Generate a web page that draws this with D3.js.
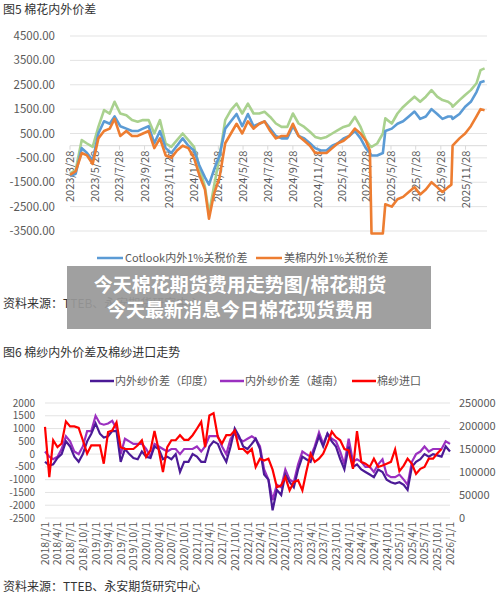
<!DOCTYPE html>
<html><head><meta charset="utf-8">
<script src="https://cdn.jsdelivr.net/npm/d3@7"></script>
<style>body{margin:0;background:#fff}svg{display:block}text{font-family:"Noto Sans CJK SC","Open Sans",sans-serif}</style>
</head><body><svg id="c" width="500" height="595"></svg>
<script>
// ---- Chart 1 data (days since 2023-03-28) ----
const c1Days=[0,14,29,42,56,70,84,98,110,124,139,153,167,180,194,208,222,236,250,264,278,292,306,319,333,343,355,369,383,397,411,425,439,453,467,480,494,508,522,536,550,564,578,592,605,619,633,647,661,675,689,703,717,730,740,744,758,772,778,794,808,822,836,850,864,878,892,906,919,933,941,944,961,975,989,1003,1013,1023];
const c1Green=[-1140,-1000,230,90,-50,770,1460,1320,1800,1320,1250,1050,980,1050,1050,500,1050,90,-50,230,500,230,-50,-870,-1690,-2790,-1690,-460,1050,1460,1730,1320,1730,1320,1320,1390,1180,910,770,770,1320,910,770,570,360,290,360,500,640,770,840,1180,770,230,0,-50,90,500,1120,910,1320,1590,1800,2010,1800,2010,2280,2010,1870,1800,1700,1600,1870,2080,2280,2560,3100,3170];
const c1Blue=[-1250,-1150,-100,-300,-600,500,1000,900,1200,800,700,600,600,700,800,100,600,-100,-300,0,300,0,-200,-800,-1300,-1600,-1000,-400,700,1000,1300,800,1300,800,900,1000,700,400,300,300,800,400,300,100,-100,-200,-200,0,100,300,400,600,300,-100,-300,-400,-400,-300,600,700,900,1000,1200,1400,1100,1200,1500,1300,1100,1200,1200,1100,1300,1600,1800,2200,2600,2650];
const c1Orange=[-1200,-1050,-300,-400,-750,300,600,700,1100,400,600,400,400,500,600,-100,300,-400,-500,-200,0,-100,-500,-1200,-1800,-3000,-2000,-1300,100,500,900,500,1000,700,900,1000,600,300,400,400,900,400,200,0,-300,-300,-300,-100,100,200,400,700,500,200,-200,-3600,-3600,-3600,-2400,-2500,-2200,-2100,-1900,-1700,-2000,-1800,-1500,-1700,-1900,-1700,-1600,0,300,500,800,1200,1500,1450];
const c1Ticks=["2023/3/28","2023/5/28","2023/7/28","2023/9/28","2023/11/28","2024/1/28","2024/3/28","2024/5/28","2024/7/28","2024/9/28","2024/11/28","2025/1/28","2025/3/28","2025/5/28","2025/7/28","2025/9/28","2025/11/28"];
const c1YTicks=[4500,3500,2500,1500,500,-500,-1500,-2500,-3500];
// ---- Chart 2 data (monthly from 2018/1) ----
const india=[-300,-450,-400,-150,0,500,300,-100,-300,0,500,800,1200,800,650,700,900,900,-300,200,0,-150,-200,100,-100,-150,300,200,-200,-100,-200,0,-700,-300,-300,0,-100,-300,-300,300,500,400,0,-300,300,1000,700,300,200,400,600,200,-800,-1000,-2200,-1400,-1600,-800,-1100,-1300,-600,-100,-200,-300,200,700,300,800,500,300,-200,-600,300,-500,-400,-600,-700,-800,-900,-600,-700,-1000,-1100,-1150,-1100,-1200,-1400,-500,-300,-200,0,-100,0,-50,-100,300,100];
const vietnam=[100,-100,-200,-100,200,700,500,100,0,300,900,900,1500,1200,1150,1200,1300,1000,0,600,500,400,400,400,200,-100,400,300,200,100,200,200,0,200,200,200,300,100,300,700,700,700,300,0,600,800,600,500,600,700,600,300,-600,-1000,-1800,-1200,-1300,-600,-1000,-1100,-400,100,0,-100,300,850,400,800,600,500,100,-400,600,-300,-200,-300,-500,-500,-700,-400,-200,-800,-900,-900,-800,-1000,-1200,-300,0,100,300,100,200,200,200,500,400];
const imports=[198000,89000,169000,154000,162000,210000,199000,199000,196000,169000,140000,158000,158000,158000,118000,187000,190000,208000,154000,150000,150000,150000,158000,169000,133000,147000,189000,147000,100000,154000,169000,169000,180000,170000,170000,180000,194000,209000,154000,223000,228000,176000,162000,180000,180000,190000,150000,150000,141000,150000,111000,129000,125000,129000,105000,67000,71000,89000,60000,78000,82000,60000,100000,140000,122000,129000,140000,162000,188000,176000,169000,150000,147000,107000,189000,122000,118000,111000,129000,111000,114000,118000,122000,149000,102000,114000,129000,118000,96000,107000,111000,129000,129000,140000,150000];
const c2LeftTicks=[2000,1500,1000,500,0,-500,-1000,-1500,-2000,-2500];
const c2RightTicks=[250000,200000,150000,100000,50000,0];
const c2Legend=["内外纱价差（印度）","内外纱价差（越南）","棉纱进口"];

const svg=d3.select("#c");
const grey="#595959";
// ===== Chart 1 =====
svg.append("text").attr("x",3).attr("y",14).attr("font-size",12).attr("fill","#333").text("图5 棉花内外价差");
const t0=new Date(2023,2,28);
const dayToDate=d=>d3.timeDay.offset(t0,d);
const x1=d3.scaleTime().domain([t0,dayToDate(1024)]).range([70,485]);
const y1=d3.scaleLinear().domain([-3500,4500]).range([231,36]);
const g1=svg.append("g");
c1YTicks.forEach(v=>{
  g1.append("line").attr("x1",70).attr("x2",487).attr("y1",y1(v)).attr("y2",y1(v)).attr("stroke","#e3e3e3");
  g1.append("text").attr("x",55).attr("y",y1(v)+4).attr("text-anchor","end").attr("font-size",11.5).attr("fill",grey).text(v.toFixed(2));
});
g1.append("line").attr("x1",70).attr("x2",487).attr("y1",y1(0)).attr("y2",y1(0)).attr("stroke","#d9d9d9");
c1Ticks.forEach(s=>{
  const p=s.split("/").map(Number);const xx=x1(new Date(p[0],p[1]-1,p[2]));
  g1.append("line").attr("x1",xx).attr("x2",xx).attr("y1",y1(0)).attr("y2",y1(0)+4).attr("stroke","#d9d9d9");
  g1.append("text").attr("transform",`translate(${xx+4},${y1(0)+5}) rotate(-90)`).attr("text-anchor","end").attr("font-size",11).attr("fill",grey).text(s);
});
const line1=arr=>d3.line().x((d,i)=>x1(dayToDate(c1Days[i]))).y(d=>y1(d))(arr);
[[c1Green,"#a9d18e"],[c1Blue,"#5b9bd5"],[c1Orange,"#ed7d31"]].forEach(([a,c])=>{
  g1.append("path").attr("d",line1(a)).attr("fill","none").attr("stroke",c).attr("stroke-width",2.6).attr("stroke-linejoin","round");
});
// legend
[["#5b9bd5","Cotlook内外1%关税价差",97],["#ed7d31","美棉内外1%关税价差",256]].forEach(([c,t,x])=>{
  g1.append("line").attr("x1",x).attr("x2",x+26).attr("y1",258).attr("y2",258).attr("stroke",c).attr("stroke-width",2.5);
  g1.append("text").attr("x",x+28).attr("y",262).attr("font-size",11).attr("fill",grey).text(t);
});
g1.append("line").attr("x1",97).attr("x2",123).attr("y1",283).attr("y2",283).attr("stroke","#a9d18e").attr("stroke-width",2.5);
svg.append("text").attr("x",3).attr("y",308).attr("font-size",12).attr("fill","#333").text("资料来源：TTEB、永安期货研究中心");
// overlay
svg.append("rect").attr("x",67).attr("y",266).attr("width",364).attr("height",63).attr("fill","#999").attr("opacity",0.93);
[["今天棉花期货费用走势图/棉花期货",292],["今天最新消息今日棉花现货费用",317]].forEach(([t,y])=>{
  svg.append("text").attr("x",240).attr("y",y).attr("text-anchor","middle").attr("font-size",19).attr("font-weight","bold").attr("fill","#fff").text(t);
});
// ===== Chart 2 =====
svg.append("text").attr("x",3).attr("y",357).attr("font-size",12).attr("fill","#333").text("图6 棉纱内外价差及棉纱进口走势");
const m0=new Date(2018,0,1);
const x2=d3.scaleTime().domain([m0,new Date(2026,0,1)]).range([45,450]);
const yl=d3.scaleLinear().domain([-2500,2000]).range([518,403]);
const yr=d3.scaleLinear().domain([0,250000]).range([518,403]);
const g2=svg.append("g");
c2LeftTicks.forEach(v=>{
  g2.append("line").attr("x1",45).attr("x2",450).attr("y1",yl(v)).attr("y2",yl(v)).attr("stroke","#e3e3e3");
  g2.append("text").attr("x",35).attr("y",yl(v)+3.5).attr("text-anchor","end").attr("font-size",10).attr("fill",grey).text(v);
});
c2RightTicks.forEach(v=>{
  g2.append("text").attr("x",459).attr("y",yr(v)+4).attr("font-size",11).attr("fill",grey).text(v);
});
d3.timeMonth.every(3).range(m0,new Date(2026,0,2)).forEach(d=>{
  const xx=x2(d);
  g2.append("text").attr("transform",`translate(${xx+4},${522}) rotate(-90)`).attr("text-anchor","end").attr("font-size",10.5).attr("fill",grey).text(`${d.getFullYear()}/${d.getMonth()+1}/1`);
});
const mx=i=>x2(d3.timeMonth.offset(m0,i));
const colI="#4b1a96",colV="#9b30c0",colR="#ff0000";
g2.append("path").attr("d",d3.line().x((d,i)=>mx(i)).y(d=>yl(d))(vietnam)).attr("fill","none").attr("stroke",colV).attr("stroke-width",2.2);
g2.append("path").attr("d",d3.line().x((d,i)=>mx(i)).y(d=>yl(d))(india)).attr("fill","none").attr("stroke",colI).attr("stroke-width",2.2);
g2.append("path").attr("d",d3.line().x((d,i)=>mx(i)).y(d=>yr(d))(imports)).attr("fill","none").attr("stroke",colR).attr("stroke-width",2.2);
[[colI,90],[colV,220],[colR,352]].forEach(([c,x],i)=>{
  g2.append("line").attr("x1",x).attr("x2",x+24).attr("y1",381).attr("y2",381).attr("stroke",c).attr("stroke-width",2.5);
  g2.append("text").attr("x",x+25).attr("y",385).attr("font-size",11).attr("fill",grey).text(c2Legend[i]);
});
svg.append("text").attr("x",3).attr("y",591).attr("font-size",12).attr("fill","#333").text("资料来源：TTEB、永安期货研究中心");
</script></body></html>
